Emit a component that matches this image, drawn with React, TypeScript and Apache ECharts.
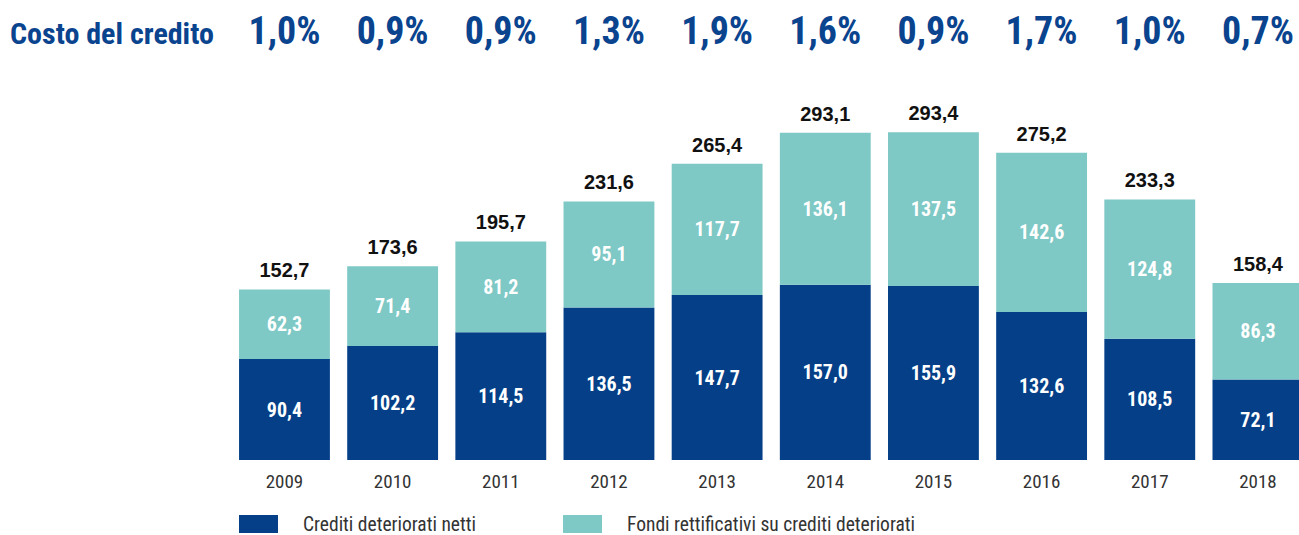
import React, { useEffect, useRef } from "react";
import * as echarts from "echarts";

const years = ["2009", "2010", "2011", "2012", "2013", "2014", "2015", "2016", "2017", "2018"];
const costoCredito = ["1,0%", "0,9%", "0,9%", "1,3%", "1,9%", "1,6%", "0,9%", "1,7%", "1,0%", "0,7%"];
const creditiNetti = [90.4, 102.2, 114.5, 136.5, 147.7, 157.0, 155.9, 132.6, 108.5, 72.1];
const fondiRettificativi = [62.3, 71.4, 81.2, 95.1, 117.7, 136.1, 137.5, 142.6, 124.8, 86.3];
const totali = [152.7, 173.6, 195.7, 231.6, 265.4, 293.1, 293.4, 275.2, 233.3, 158.4];

const DARK = "#043f87";
const TEAL = "#7ec8c5";
const BLUE_TEXT = "#0a438e";
const NARROW = "'Roboto Condensed', 'Open Sans Condensed', sans-serif";
const fmt = (v: number) => v.toFixed(1).replace(".", ",");

export default function App() {
  const ref = useRef<HTMLDivElement>(null);
  useEffect(() => {
    document.body.style.margin = "0";
    document.body.style.overflow = "hidden";
    const chart = echarts.init(ref.current!, null, { renderer: "svg" });
    const legendText = {
      fontFamily: NARROW,
      fontSize: 19.5,
      lineHeight: 20,
      color: "#333333",
      padding: [0, 0, 0, 20],
    };
    chart.setOption({
      animation: false,
      backgroundColor: "#ffffff",
      title: {
        text: "Costo del credito",
        left: 10,
        top: 18,
        padding: 0,
        textStyle: { fontFamily: NARROW, fontWeight: "bold", fontSize: 30, color: BLUE_TEXT },
      },
      grid: { left: 230.4, right: 0, top: 125, bottom: 75 },
      xAxis: [
        {
          type: "category",
          data: years,
          axisLine: { show: false },
          axisTick: { show: false },
          axisLabel: { color: "#333333", fontFamily: NARROW, fontSize: 19, margin: 12, interval: 0 },
        },
        {
          type: "category",
          position: "top",
          data: costoCredito,
          axisLine: { show: false },
          axisTick: { show: false },
          axisLabel: {
            color: BLUE_TEXT,
            fontFamily: NARROW,
            fontWeight: "bold",
            fontSize: 38,
            margin: 75,
            interval: 0,
          },
        },
      ],
      yAxis: { type: "value", min: 0, max: 300, show: false, splitLine: { show: false } },
      legend: [
        {
          data: ["Crediti deteriorati netti"],
          left: 239,
          top: 514,
          padding: 0,
          itemWidth: 39,
          itemHeight: 18,
          icon: "rect",
          textStyle: legendText,
        },
        {
          data: ["Fondi rettificativi su crediti deteriorati"],
          left: 563,
          top: 514,
          padding: 0,
          itemWidth: 39,
          itemHeight: 18,
          icon: "rect",
          textStyle: legendText,
        },
      ],
      series: [
        {
          name: "Crediti deteriorati netti",
          type: "bar",
          stack: "tot",
          data: creditiNetti,
          barWidth: "84%",
          itemStyle: { color: DARK },
          label: {
            show: true,
            position: "inside",
            color: "#ffffff",
            fontFamily: NARROW,
            fontWeight: "bold",
            fontSize: 20,
            formatter: (p: any) => fmt(p.value),
          },
        },
        {
          name: "Fondi rettificativi su crediti deteriorati",
          type: "bar",
          stack: "tot",
          data: fondiRettificativi,
          barWidth: "84%",
          itemStyle: { color: TEAL },
          label: {
            show: true,
            position: "inside",
            color: "#ffffff",
            fontFamily: NARROW,
            fontWeight: "bold",
            fontSize: 20,
            formatter: (p: any) => fmt(p.value),
          },
        },
        {
          name: "Totale",
          type: "bar",
          stack: "tot",
          data: totali.map(() => 0),
          barWidth: "84%",
          itemStyle: { color: "transparent" },
          label: {
            show: true,
            position: "top",
            distance: 9,
            color: "#111111",
            fontFamily: "'Liberation Sans', Arial, sans-serif",
            fontWeight: "bold",
            fontSize: 20,
            formatter: (p: any) => fmt(totali[p.dataIndex]),
          },
        },
      ],
    });
    return () => chart.dispose();
  }, []);
  return <div ref={ref} style={{ width: 1312, height: 535 }} />;
}
